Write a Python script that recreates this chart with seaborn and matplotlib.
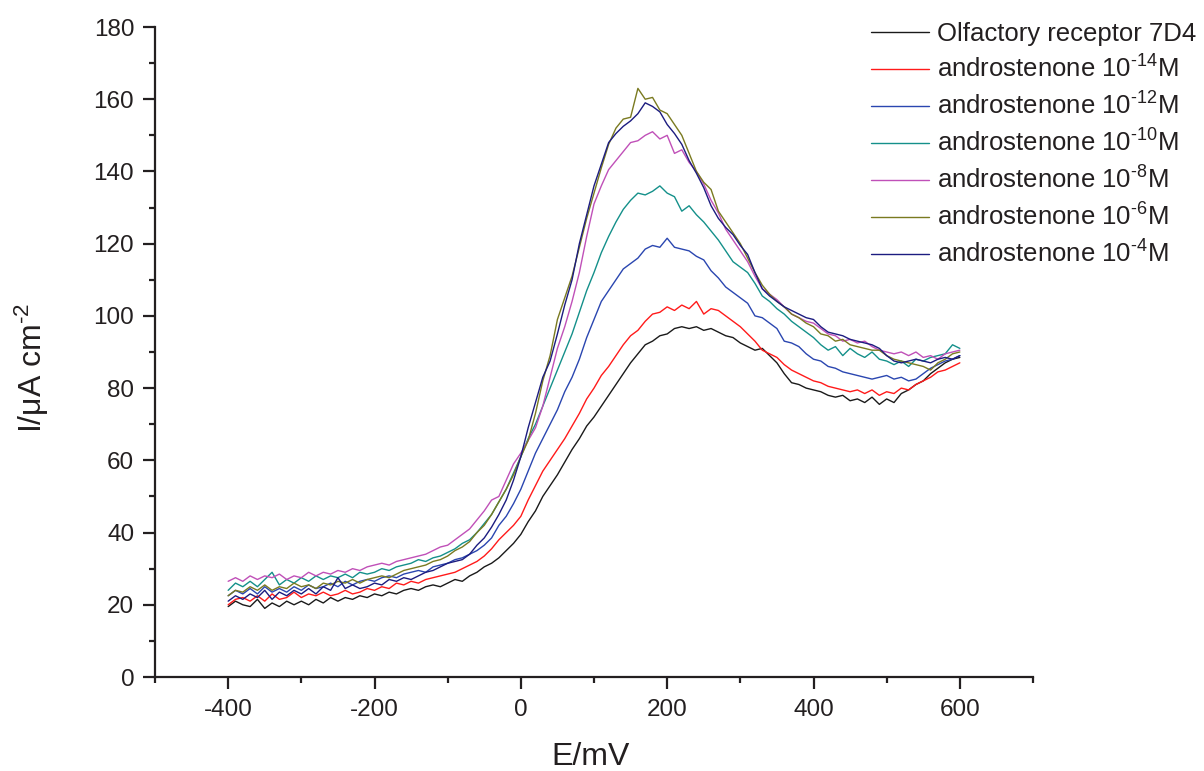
import numpy as np
import pandas as pd
import matplotlib
matplotlib.use("Agg")
import matplotlib.pyplot as plt
from matplotlib.ticker import MultipleLocator
import seaborn as sns

sns.set_theme(style="ticks")
plt.rcParams['font.family'] = ['Liberation Sans', 'DejaVu Sans']
plt.rcParams['mathtext.fontset'] = 'custom'
plt.rcParams['mathtext.rm'] = 'Liberation Sans'
plt.rcParams['mathtext.it'] = 'Liberation Sans'
plt.rcParams['axes.unicode_minus'] = False

E = list(range(-400, 601, 10))

receptor = [19.5, 21, 20, 19.5, 21.5, 19, 20.5, 19.5, 21, 20, 21, 20, 21.5, 20.5, 22, 21, 22, 21.5, 22.5, 22,
            23, 22.5, 23.5, 23, 24, 24.5, 24, 25, 25.5, 25, 26, 27, 26.5, 28, 29, 30.5, 31.5, 33, 35, 37,
            39.5, 43, 46, 50, 53, 56, 59.5, 63, 66, 69.5, 72, 75, 78, 81, 84, 87, 89.5, 92, 93, 94.5,
            95, 96.5, 97, 96.5, 97, 96, 96.5, 95.5, 94.5, 94, 92.5, 91.5, 90.5, 91, 89, 87, 84, 81.5, 81, 80,
            79.5, 79, 78, 77.5, 78, 76.5, 77, 76, 77.5, 75.5, 77, 76, 78.5, 79.5, 81, 82, 84, 85.5, 87, 88, 88.5]

m14 = [20, 21.5, 22, 21, 22.5, 21, 23, 21.5, 22, 23.5, 22, 23, 22.5, 23.5, 22.5, 23, 24, 23, 23.5, 24.5,
       24, 25, 24.5, 26, 25.5, 26.5, 26, 27, 27.5, 28, 28.5, 29, 30, 31, 32, 33.5, 35.5, 38, 40, 42,
       44.5, 49, 53, 57, 60, 63, 66, 69.5, 73, 77, 80, 83.5, 86, 89, 92, 94.5, 96, 98.5, 100.5, 101,
       102.5, 101.5, 103, 102, 104, 100.5, 102, 101.5, 100, 98.5, 97, 95, 93, 90.5, 89.5, 88.5, 86.5, 85, 84, 83,
       82, 81.5, 80.5, 80, 79.5, 79, 79.5, 78.5, 79.5, 78, 79, 78.5, 80, 79.5, 81, 82, 83, 84.5, 85, 86, 87]

m12 = [22.5, 24, 23, 24.5, 23, 25, 23.5, 24.5, 23.5, 25, 24, 25.5, 24.5, 25, 26, 25, 26.5, 25.5, 26.5, 27,
       26.5, 27.5, 28, 27.5, 28.5, 29, 29.5, 29, 30.5, 31, 31.5, 32.5, 33, 34, 35, 36.5, 38.5, 42, 44.5, 48,
       52, 57, 62, 66, 70, 74, 79, 83, 88, 94, 99, 104, 107, 110, 113, 114.5, 116, 118.5, 119.5, 119,
       121.5, 119, 118.5, 118, 116.5, 115.5, 112.5, 110.5, 108, 106.5, 105, 103.5, 100, 99.5, 98, 96.5, 93, 92.5, 91.5, 89.5,
       88, 87.5, 86, 85.5, 84.5, 84, 83.5, 83, 82.5, 83, 83.5, 82.5, 83, 82, 82.5, 84, 85.5, 86.5, 87.5, 88, 89]

m10 = [24, 26, 25, 26.5, 25, 27, 29, 25.5, 27, 26, 27.5, 26.5, 28, 27, 28, 27.5, 28.5, 27.5, 29, 28.5,
       29, 30, 29.5, 30.5, 31, 31.5, 32.5, 32, 33, 33.5, 34.5, 35.5, 37, 38, 40, 42.5, 45, 48.5, 52, 56.5,
       61, 66, 70, 75, 80, 85, 90, 95, 101, 107, 112, 117.5, 122, 126, 129.5, 132, 134, 133.5, 134.5, 136,
       134, 133, 129, 130.5, 128, 126, 123.5, 121, 118, 115, 113.5, 112, 109, 105.5, 104, 102, 100.5, 98.5, 97, 95.5,
       94, 92, 90.5, 91.5, 89, 91, 89.5, 88.5, 90, 88, 87.5, 86.5, 87.5, 86, 88, 87.5, 88.5, 89, 89.5, 92, 91]

m8 = [26.5, 27.5, 26.5, 28, 27, 28, 27.5, 28.5, 27, 28, 27.5, 29, 28, 29, 28.5, 29.5, 29, 30, 29.5, 30.5,
      31, 31.5, 31, 32, 32.5, 33, 33.5, 34, 35, 36, 36.5, 38, 39.5, 41, 43.5, 46, 49, 50, 54.5, 59,
      62, 65.5, 69, 75, 83, 91, 97, 104, 112, 122, 131, 136, 140.5, 143, 145.5, 148, 148.5, 150, 151, 149,
      150, 145, 146, 142.5, 140, 136.5, 132, 128.5, 124, 121, 118, 115, 111, 107.5, 106, 104.5, 102.5, 100.5, 99.5, 98.5,
      98, 96.5, 95, 94.5, 93, 93.5, 92.5, 93, 91.5, 90.5, 90, 89.5, 90, 89, 90, 88.5, 89, 88, 89.5, 90, 90.5]

m6 = [22.5, 24, 23.5, 25, 24, 25.5, 24, 25, 24.5, 26, 25, 25.5, 24.5, 26, 25.5, 26.5, 26, 27, 26, 27,
      27.5, 28, 27.5, 28.5, 29.5, 30, 30.5, 31, 32, 32.5, 33.5, 35, 36, 37.5, 40, 42, 45, 48.5, 52, 56,
      61, 65.5, 73, 82, 89, 99, 105, 111, 119, 127, 134, 141, 147.5, 152, 154.5, 155, 163, 160, 160.5, 157,
      156, 153, 150, 145, 140, 137, 135, 129, 126, 123, 120, 116, 112, 108.5, 106, 104, 102.5, 100.5, 99.5, 98,
      97, 95, 94.5, 93, 93.5, 92, 91.5, 91, 90.5, 90.5, 89, 88, 87.5, 87, 86.5, 86, 85, 87, 88, 89.5, 90]

m4 = [21, 22.5, 21.5, 23, 22, 24, 21.5, 23.5, 22.5, 24, 23, 24.5, 23, 25, 24, 27.5, 24.5, 25.5, 24.5, 25,
      26, 25.5, 27, 26.5, 27.5, 27, 28, 29, 29.5, 30.5, 31.5, 32, 32.5, 34, 36.5, 38.5, 41.5, 45, 49, 54.5,
      61, 69, 76, 83, 87.5, 95, 103, 110, 120, 128, 136, 142, 148, 150.5, 152.5, 154, 156, 159, 158, 156.5,
      153, 150.5, 147.5, 143, 139.5, 135.5, 130.5, 127, 124.5, 122.5, 119.5, 117, 112, 107.5, 105.5, 104, 102.5, 101.5, 100.5, 99.5,
      99, 97, 95.5, 95, 94.5, 93.5, 93, 92.5, 92, 91, 89, 87.5, 87, 87.5, 88, 87.5, 87, 88, 88.5, 88, 89]

labels = ['Olfactory receptor 7D4',
          r'androstenone 10$^{\text{-14}}$M',
          r'androstenone 10$^{\text{-12}}$M',
          r'androstenone 10$^{\text{-10}}$M',
          r'androstenone 10$^{\text{-8}}$M',
          r'androstenone 10$^{\text{-6}}$M',
          r'androstenone 10$^{\text{-4}}$M']
series = [receptor, m14, m12, m10, m8, m6, m4]
colors = ['#1a1a1a', '#ff1a1a', '#2a46b0', '#14908a', '#c050b8', '#7a7a20', '#1c1c80']

fig = plt.figure(figsize=(12.04, 7.71), dpi=100)
ax = fig.add_axes([155/1204, 1 - 677/771, (1033 - 155)/1204, (677 - 27)/771])

for lab, vals, col in zip(labels, series, colors):
    df = pd.DataFrame({'E': E, 'I': vals})
    sns.lineplot(data=df, x='E', y='I', ax=ax, color=col, linewidth=1.0, label=lab)

ax.set_xlim(-500, 700)
ax.set_ylim(0, 180)
ax.xaxis.set_major_locator(MultipleLocator(200))
ax.xaxis.set_minor_locator(MultipleLocator(100))
ax.yaxis.set_major_locator(MultipleLocator(20))
ax.yaxis.set_minor_locator(MultipleLocator(10))
ax.set_xticks([-400, -200, 0, 200, 400, 600])
for s in ['top', 'right']:
    ax.spines[s].set_visible(False)
for s in ['left', 'bottom']:
    ax.spines[s].set_linewidth(1.6)
    ax.spines[s].set_color('#231f20')
ink = '#231f20'
ax.tick_params(which='major', direction='out', length=8.5, width=1.6, labelsize=17.5,
               color=ink, labelcolor=ink)
ax.tick_params(which='minor', direction='out', length=4.5, width=1.6, color=ink)
ax.tick_params(axis='x', which='major', pad=7.5)
ax.tick_params(axis='y', which='major', pad=6.5)

ax.set_xlabel('E/mV', fontsize=23, color=ink)
ax.set_ylabel(r'I/μA cm$^{\text{-2}}$', fontsize=23, color=ink)
ax.xaxis.set_label_coords(0.4966, -0.1)
ax.yaxis.set_label_coords(-0.118, 0.475)

ax.get_legend().remove()
handles, labs = ax.get_legend_handles_labels()
fig.legend(handles, labs, loc='upper left', bbox_to_anchor=(853/1204, 1 - 4/771),
           frameon=False, fontsize=18.5, handlelength=2.26, handletextpad=0.31,
           labelspacing=0.38, borderpad=0.2, labelcolor=ink)

fig.savefig('out.png', dpi=100)
